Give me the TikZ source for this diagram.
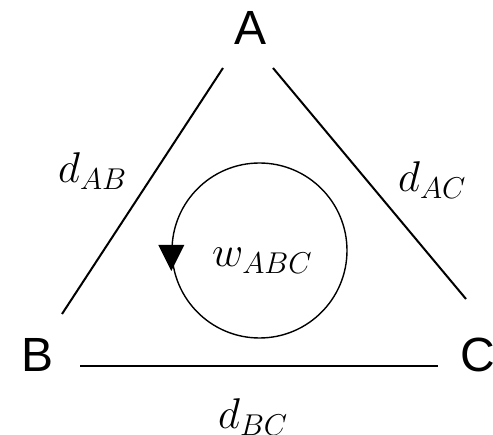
\documentclass[tikz,border=0pt]{standalone}
\usepackage{fix-cm}
\usepackage{fontspec}
\newfontfamily\lblfont{Liberation Sans}
\usetikzlibrary{calc}
\begin{document}
\begin{tikzpicture}[x=1pt,y=-1pt,
  vertex/.style={inner sep=0pt,font=\lblfont\fontsize{48}{56}\selectfont},
  weight/.style={inner sep=0pt,font=\fontsize{43}{50}\selectfont},
  edge/.style={line width=2pt},
  loopline/.style={line width=1.4pt}]
\useasboundingbox (0,0) rectangle (493,435);
\node[vertex,anchor=base] (A) at (251,45) {A};
\node[vertex,anchor=base] (B) at (38,372) {B};
\node[vertex,anchor=base west] (C) at (460,372) {C};
\draw[edge] ($(A.base)+(-28,23)$) -- ($(B.base)+(24,-58)$);
\draw[edge] ($(A.base)+(22,23)$) -- ($(C.base west)+(6,-73)$);
\draw[edge] ($(B.base)+(42,-6)$) -- ($(C.base west)+(-22,-6)$);
\node[weight,anchor=base west] (dab) at (58,183) {$d_{AB}$};
\node[weight,anchor=base west] (dac) at (398,192) {$d_{AC}$};
\node[weight,anchor=base west] (dbc) at (218,429) {$d_{BC}$};
\node[loopline,draw,circle,minimum size=175pt,inner sep=0pt] (loop) at (259.5,250.5) {};
\fill ($(loop.west)+(-13,-5.5)$) -- ($(loop.west)+(13,-5.5)$) -- ($(loop.west)+(0,20.5)$) -- cycle;
\node[weight,anchor=base west] (w) at (212,267) {$w_{ABC}$};
\end{tikzpicture}
\end{document}
